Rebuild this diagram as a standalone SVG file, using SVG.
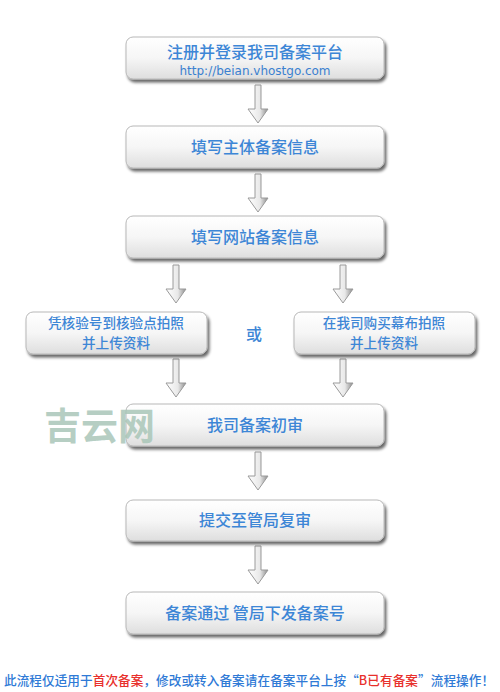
<svg xmlns="http://www.w3.org/2000/svg" width="500" height="692" viewBox="0 0 500 692">
<defs>
<linearGradient id="bg" x1="0" y1="0" x2="0" y2="1">
<stop offset="0" stop-color="#ffffff"/><stop offset="0.5" stop-color="#f6f6f6"/><stop offset="1" stop-color="#dedede"/>
</linearGradient>
<linearGradient id="ag" x1="0" y1="0" x2="1" y2="0">
<stop offset="0" stop-color="#ffffff"/><stop offset="0.6" stop-color="#e8e8e8"/><stop offset="1" stop-color="#8a8a8a"/>
</linearGradient>
<filter id="sh" x="-10%" y="-20%" width="125%" height="160%">
<feGaussianBlur in="SourceAlpha" stdDeviation="1.5"/>
<feOffset dx="2" dy="3"/>
<feComponentTransfer><feFuncA type="linear" slope="0.6"/></feComponentTransfer>
<feMerge><feMergeNode/><feMergeNode in="SourceGraphic"/></feMerge>
</filter>
<path id="arr" d="M-3,0 H3 V24 H10 L0,38 L-10,24 H-3 Z"/>
</defs>
<style>
.box{fill:url(#bg);stroke:#b8b8b8;stroke-width:1;filter:url(#sh)}
.t{font-family:"Noto Sans CJK SC","Liberation Sans",sans-serif;font-size:16px;font-weight:500;fill:#3d86d6;text-anchor:middle}
.s{font-size:13.6px}
.u{font-family:"DejaVu Sans","Liberation Sans",sans-serif;font-size:12px;fill:#3a80d0;text-anchor:middle}
.a{fill:url(#ag);stroke:#9a9a9a;stroke-width:1}
.f{font-family:"Noto Sans CJK SC","Liberation Sans",sans-serif;font-size:12.6px;font-weight:500;fill:#2f7ad6}
.r{fill:#e8302c}
</style>
<rect width="500" height="692" fill="#ffffff"/>
<g id="connectors">
<use href="#arr" x="258" y="85" class="a"/>
<use href="#arr" x="258" y="174" class="a"/>
<use href="#arr" x="176" y="265" class="a"/>
<use href="#arr" x="343" y="265" class="a"/>
<use href="#arr" x="176" y="359" class="a"/>
<use href="#arr" x="343" y="359" class="a"/>
<use href="#arr" x="258" y="452" class="a"/>
<use href="#arr" x="258" y="546" class="a"/>
</g>
<g id="n1"><rect class="box" x="126" y="37" width="258" height="42" rx="7"/>
<text class="t" x="255" y="58">注册并登录我司备案平台</text>
<text class="u" x="255" y="75">http://beian.vhostgo.com</text></g>
<g id="n2"><rect class="box" x="126" y="126" width="258" height="42" rx="7"/>
<text class="t" x="255" y="153">填写主体备案信息</text></g>
<g id="n3"><rect class="box" x="126" y="216" width="258" height="42" rx="7"/>
<text class="t" x="255" y="243">填写网站备案信息</text></g>
<g id="n4"><rect class="box" x="26" y="312" width="181" height="42" rx="7"/>
<text class="t s" x="116" y="328">凭核验号到核验点拍照</text>
<text class="t s" x="116" y="348">并上传资料</text></g>
<g id="or"><text class="t" x="254" y="340">或</text></g>
<g id="n5"><rect class="box" x="294" y="312" width="181" height="42" rx="7"/>
<text class="t s" x="384" y="328">在我司购买幕布拍照</text>
<text class="t s" x="384" y="348">并上传资料</text></g>
<g id="n6"><rect class="box" x="126" y="404" width="258" height="42" rx="7"/>
<text class="t" x="255" y="431">我司备案初审</text></g>
<g id="n7"><rect class="box" x="126" y="500" width="258" height="41" rx="7"/>
<text class="t" x="255" y="526">提交至管局复审</text></g>
<g id="n8"><rect class="box" x="126" y="592" width="258" height="42" rx="7"/>
<text class="t" x="255" y="619">备案通过  管局下发备案号</text></g>
<text x="44" y="440" font-family="Noto Sans CJK SC,sans-serif" font-size="37" font-weight="bold" fill="#a9c6b8" fill-opacity="0.85">吉云网</text>
<text class="f" x="4" y="685" textLength="490" lengthAdjust="spacing">此流程仅适用于<tspan class="r">首次备案</tspan>，修改或转入备案请在备案平台上按“<tspan class="r">B已有备案</tspan>”流程操作！</text>
</svg>
